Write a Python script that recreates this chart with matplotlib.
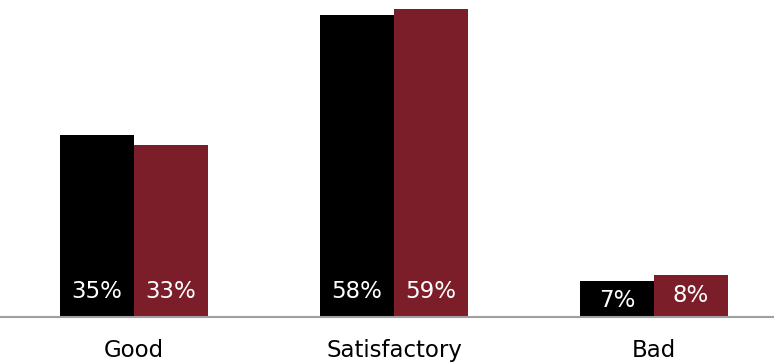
import matplotlib.pyplot as plt
import numpy as np

plt.rcParams['font.family'] = ['DejaVu Sans']

categories = ["Good", "Satisfactory", "Bad"]
series_a = [35, 58, 7]
series_b = [33, 59, 8]
colors = ["#000000", "#7B1E2A"]

fig = plt.figure(figsize=(7.74, 3.63), dpi=100)
ax = fig.add_axes([0, 46 / 363, 1, 1 - 46 / 363])

x = np.arange(len(categories))
w = 0.285

for vals, off, c in [(series_a, -w / 2, colors[0]), (series_b, w / 2, colors[1])]:
    bars = ax.bar(x + off, vals, width=w, color=c)
    for b, v in zip(bars, vals):
        # label sits near the base, or just under the top for short bars
        y = min(v - 3.8, 4.8)
        ax.text(b.get_x() + b.get_width() / 2, y, f"{v}%", ha="center",
                va="center", color="white", fontsize=16.5)

ax.set_xlim(-134 / 260, 2 + 120 / 260)
ax.set_ylim(0, 60.8)
ax.set_yticks([])
ax.set_xticks(x)
ax.set_xticklabels(categories, fontsize=16.5)
ax.tick_params(axis="x", length=0, pad=16)
for s in ["top", "right", "left"]:
    ax.spines[s].set_visible(False)
ax.spines["bottom"].set_color("#a0a0a0")
ax.spines["bottom"].set_linewidth(1.5)

fig.savefig("out.png", dpi=100)
